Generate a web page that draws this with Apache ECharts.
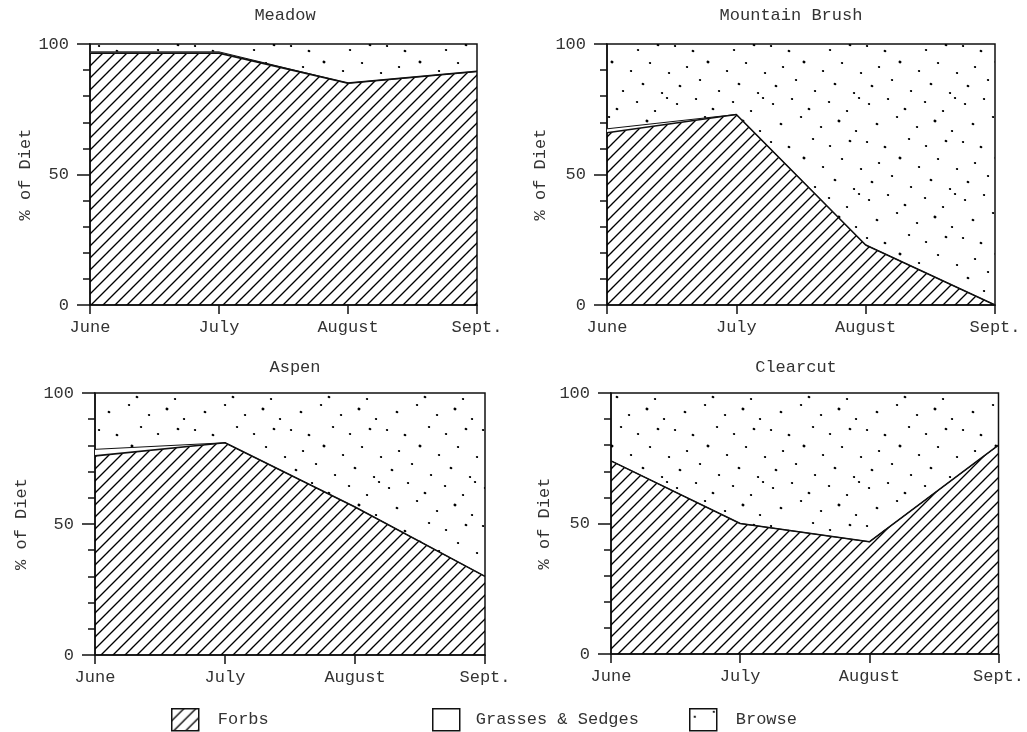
<!DOCTYPE html>
<html>
<head>
<meta charset="utf-8">
<script src="https://cdn.jsdelivr.net/npm/echarts@6/dist/echarts.min.js"></script>
<style>
  html, body { margin: 0; background: #fff; }
  #chart { width: 1027px; height: 732px; }
</style>
</head>
<body>
<div id="chart"></div>
<script>
const months = ["June", "July", "August", "Sept."];
const panelNames = ["Meadow", "Mountain Brush", "Aspen", "Clearcut"];
const groupNames = ["Forbs", "Grasses & Sedges", "Browse"];

// % of diet (June, July, August, Sept.)
const meadowForbs  = [96.5, 96.5, 85, 89.5];
const meadowGrass  = [0.5, 0.5, 0, 0];
const meadowBrowse = [3, 3, 15, 10.5];

const brushForbs  = [66, 73, 23, 0];
const brushGrass  = [1.5, 0, 0, 0];
const brushBrowse = [32.5, 27, 77, 100];

const aspenForbs  = [76, 81, 56.5, 30];
const aspenGrass  = [2.5, 0, 0, 0];
const aspenBrowse = [21.5, 19, 43.5, 70];

const clearForbs  = [74, 50, 43, 80];
const clearGrass  = [0, 0, 0, 0];
const clearBrowse = [26, 50, 57, 20];

const panelData = [
  [meadowForbs, meadowGrass, meadowBrowse],
  [brushForbs, brushGrass, brushBrowse],
  [aspenForbs, aspenGrass, aspenBrowse],
  [clearForbs, clearGrass, clearBrowse],
];

// pixel layout of the four plots
const layout = [
  { left: 90,  top: 44,  width: 387, height: 261, titleX: 285, titleY: 7,   nameGap: 53 },
  { left: 607, top: 44,  width: 388, height: 261, titleX: 791, titleY: 7,   nameGap: 58 },
  { left: 95,  top: 393, width: 390, height: 262, titleX: 295, titleY: 359, nameGap: 65 },
  { left: 611, top: 393, width: 388, height: 261, titleX: 796, titleY: 359, nameGap: 58 },
];

const FONT = "'Liberation Mono', 'DejaVu Sans Mono', monospace";
const INK  = "#111";
const TXT  = "#333";

// fill textures
function hatchTile() {
  const c = document.createElement("canvas");
  c.width = c.height = 12;
  const g = c.getContext("2d");
  g.strokeStyle = "#000";
  g.lineWidth = 1.35;
  g.beginPath();
  g.moveTo(-1, 13); g.lineTo(13, -1);
  g.moveTo(-1, 1);  g.lineTo(1, -1);
  g.moveTo(11, 13); g.lineTo(13, 11);
  g.stroke();
  return c;
}

const dotSpots = [
  [5, 8, 2], [24, 3, 2], [41, 13, 2.4], [61, 6, 2], [79, 15, 2], [91, 2, 2],
  [13, 28, 2.4], [33, 21, 2], [53, 31, 2], [71, 25, 2.6], [88, 35, 2],
  [3, 46, 2], [21, 51, 2.4], [45, 43, 2], [62, 50, 2], [82, 45, 2.4],
  [15, 67, 2], [36, 62, 2.6], [55, 71, 2], [74, 63, 2], [93, 73, 2],
  [8, 86, 2.4], [28, 80, 2], [47, 91, 2], [67, 84, 2.4], [86, 93, 2],
];

function dotTile() {
  const c = document.createElement("canvas");
  c.width = c.height = 96;
  const g = c.getContext("2d");
  g.fillStyle = "#000";
  for (const [x, y, r] of dotSpots) {
    g.beginPath();
    g.ellipse(x, y, r * 0.6, r * 0.5, 0.4, 0, Math.PI * 2);
    g.fill();
  }
  return c;
}

const hatch = { image: hatchTile(), repeat: "repeat" };
const dots  = { image: dotTile(), repeat: "repeat" };
const fills = [hatch, "#fff", dots];

const grids = [], xAxes = [], yAxes = [], titles = [], series = [];

layout.forEach((L, i) => {
  grids.push({
    left: L.left, top: L.top, width: L.width, height: L.height,
    show: true, borderColor: INK, borderWidth: 1.5, backgroundColor: "transparent",
  });
  titles.push({
    text: panelNames[i], left: L.titleX, top: L.titleY, textAlign: "center", padding: 0,
    textStyle: { fontFamily: FONT, fontSize: 17, fontWeight: "normal", color: TXT },
  });
  xAxes.push({
    type: "category", gridIndex: i, data: months, boundaryGap: false,
    axisLine: { lineStyle: { color: INK, width: 1.5 } },
    axisTick: { length: 9, lineStyle: { color: INK, width: 1.5 } },
    axisLabel: { fontFamily: FONT, fontSize: 17, color: TXT, margin: 14 },
    splitLine: { show: false },
  });
  yAxes.push({
    type: "value", gridIndex: i, min: 0, max: 100, interval: 50,
    name: "% of Diet", nameLocation: "middle", nameGap: L.nameGap,
    nameTextStyle: { fontFamily: FONT, fontSize: 17, color: TXT },
    axisLine: { show: true, lineStyle: { color: INK, width: 1.5 } },
    axisTick: { show: true, length: 13, lineStyle: { color: INK, width: 1.5 } },
    minorTick: { show: true, splitNumber: 5, length: 7, lineStyle: { color: INK, width: 1.5 } },
    axisLabel: { fontFamily: FONT, fontSize: 17, color: TXT, margin: 21 },
    splitLine: { show: false },
  });
  panelData[i].forEach((vals, k) => {
    series.push({
      type: "line", name: groupNames[k], xAxisIndex: i, yAxisIndex: i,
      stack: "p" + i, data: vals, symbol: "none", silent: true,
      color: "#000",
      lineStyle: k === 2 ? { opacity: 0 } : { color: INK, width: k === 0 ? 1.6 : 1 },
      areaStyle: { color: fills[k], opacity: 1 },
    });
  });
});

const legendAt  = [171, 432, 689];
const legendGap = [14, 11, 14];
const legends = groupNames.map((n, k) => ({
  left: legendAt[k], top: 708, padding: 0,
  itemWidth: 27, itemHeight: 22,
  data: [{ name: n, icon: "rect", itemStyle: { color: fills[k], borderColor: INK, borderWidth: 1.5 } }],
  textStyle: { fontFamily: FONT, fontSize: 17, color: TXT, padding: [0, 0, 0, legendGap[k]] },
  selectedMode: false,
}));

const chart = echarts.init(document.getElementById("chart"));
chart.setOption({
  animation: false,
  backgroundColor: "#fff",
  title: titles,
  legend: legends,
  grid: grids,
  xAxis: xAxes,
  yAxis: yAxes,
  series: series,
});
</script>
</body>
</html>
